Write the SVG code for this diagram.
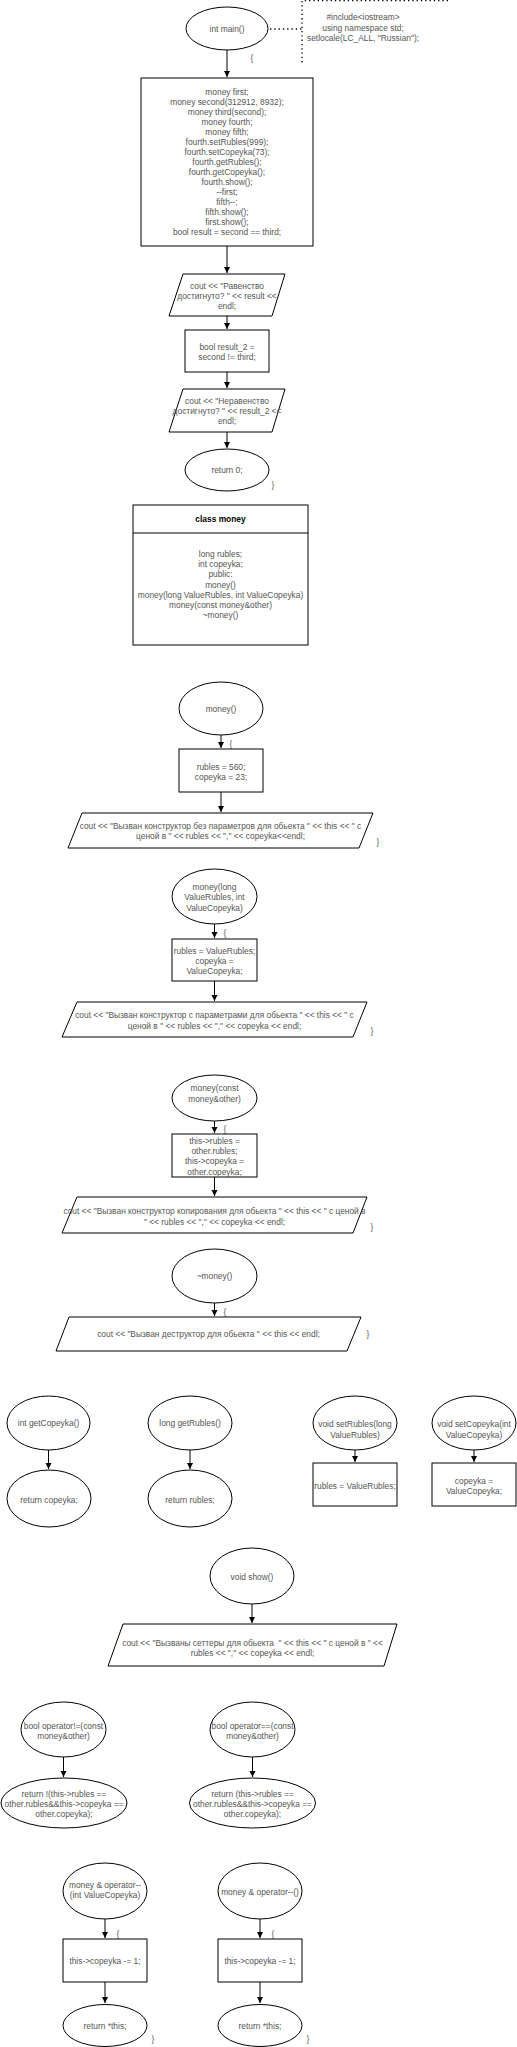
<svg xmlns="http://www.w3.org/2000/svg" width="517" height="2047" viewBox="0 0 517 2047">
<style>
text{font-family:"Liberation Sans",Arial,sans-serif;font-size:8.4px;fill:#555;text-anchor:middle}
.b{font-weight:bold;fill:#000}
.s{fill:#fff;stroke:#000;stroke-width:1}
.c{stroke:#000;stroke-width:1;fill:none}
.d{stroke:#000;stroke-width:1.3;fill:none;stroke-dasharray:1.3 3}
</style>
<defs>
<marker id="a" markerWidth="7" markerHeight="7" refX="6" refY="3.5" orient="auto" markerUnits="userSpaceOnUse">
<path d="M0,0.5 L6,3.5 L0,6.5 Z" fill="#000"/>
</marker>
</defs>
<rect width="517" height="2047" fill="#fff"/>
<g id="connectors">
<path class="c" d="M227,50 V77" marker-end="url(#a)"/>
<path class="c" d="M227,246 V273" marker-end="url(#a)"/>
<path class="c" d="M227,316 V329" marker-end="url(#a)"/>
<path class="c" d="M227,372 V388" marker-end="url(#a)"/>
<path class="c" d="M227,432 V448" marker-end="url(#a)"/>
<path class="c" d="M221,735 V748" marker-end="url(#a)"/>
<path class="c" d="M221,792 V812" marker-end="url(#a)"/>
<path class="c" d="M214.5,924 V938" marker-end="url(#a)"/>
<path class="c" d="M214.5,981 V1001" marker-end="url(#a)"/>
<path class="c" d="M214.5,1121 V1133" marker-end="url(#a)"/>
<path class="c" d="M214.5,1177 V1196" marker-end="url(#a)"/>
<path class="c" d="M214.5,1303 V1316" marker-end="url(#a)"/>
<path class="c" d="M48.5,1450 V1469" marker-end="url(#a)"/>
<path class="c" d="M190,1450 V1469" marker-end="url(#a)"/>
<path class="c" d="M355,1450 V1462" marker-end="url(#a)"/>
<path class="c" d="M474,1450 V1462" marker-end="url(#a)"/>
<path class="c" d="M252,1604 V1623" marker-end="url(#a)"/>
<path class="c" d="M63.5,1757 V1777" marker-end="url(#a)"/>
<path class="c" d="M252.5,1757 V1777" marker-end="url(#a)"/>
<path class="c" d="M105,1919 V1938" marker-end="url(#a)"/>
<path class="c" d="M105,1982 V2003" marker-end="url(#a)"/>
<path class="c" d="M260,1919 V1938" marker-end="url(#a)"/>
<path class="c" d="M260,1982 V2003" marker-end="url(#a)"/>
<path class="d" d="M270,29 H302"/>
</g>
<g id="main">
<ellipse class="s" cx="227" cy="28.5" rx="41" ry="21.5"/>
<text x="227" y="32">int main()</text>
<text x="252" y="61">{</text>
</g>
<g id="includes">
<path class="d" d="M448,0.7 H302 V63"/>
<text x="363" y="20">#include&lt;iostream&gt;</text>
<text x="363" y="31">using namespace std;</text>
<text x="363" y="41">setlocale(LC_ALL, "Russian");</text>
</g>
<g id="mainbody">
<rect class="s" x="141" y="78" width="172" height="168"/>
<text x="227" y="95">money first;</text>
<text x="227" y="105">money second(312912, 8932);</text>
<text x="227" y="115">money third(second);</text>
<text x="227" y="125">money fourth;</text>
<text x="227" y="135">money fifth;</text>
<text x="227" y="145">fourth.setRubles(999);</text>
<text x="227" y="155">fourth.setCopeyka(73);</text>
<text x="227" y="165">fourth.getRubles();</text>
<text x="227" y="175">fourth.getCopeyka();</text>
<text x="227" y="185">fourth.show();</text>
<text x="227" y="195">--first;</text>
<text x="227" y="205">fifth--;</text>
<text x="227" y="215">fifth.show();</text>
<text x="227" y="225">first.show();</text>
<text x="227" y="235">bool result = second == third;</text>
</g>
<g id="out1">
<polygon class="s" points="183,274 285,274 272,316 169,316"/>
<text x="227" y="289">cout &lt;&lt; "Равенство</text>
<text x="227" y="299">достигнуто? " &lt;&lt; result &lt;&lt;</text>
<text x="227" y="309">endl;</text>
</g>
<g id="result2">
<rect class="s" x="185" y="330" width="84" height="42"/>
<text x="227" y="350">bool result_2 =</text>
<text x="227" y="360">second != third;</text>
</g>
<g id="out2">
<polygon class="s" points="183,389 285,389 272,432 169,432"/>
<text x="227" y="404">cout &lt;&lt; "Неравенство</text>
<text x="227" y="414">достигнуто? " &lt;&lt; result_2 &lt;&lt;</text>
<text x="227" y="424">endl;</text>
</g>
<g id="ret0">
<ellipse class="s" cx="227" cy="470" rx="42" ry="21"/>
<text x="227" y="473">return 0;</text>
<text x="273" y="488">}</text>
</g>
<g id="classmoney">
<rect class="s" x="133" y="505" width="175" height="140"/>
<path class="c" d="M133,533 H308"/>
<text class="b" x="220.5" y="522">class money</text>
<text x="220.5" y="557">long rubles;</text>
<text x="220.5" y="567">int copeyka;</text>
<text x="220.5" y="577">public:</text>
<text x="220.5" y="588">money()</text>
<text x="220.5" y="598">money(long ValueRubles, int ValueCopeyka)</text>
<text x="220.5" y="608">money(const money&amp;other)</text>
<text x="220.5" y="618">~money()</text>
</g>
<g id="ctor1">
<ellipse class="s" cx="221" cy="708.5" rx="42" ry="26.5"/>
<text x="221" y="712">money()</text>
<text x="231" y="747">{</text>
<rect class="s" x="179" y="749" width="84" height="43"/>
<text x="221" y="770">rubles = 560;</text>
<text x="221" y="780">copeyka = 23;</text>
<polygon class="s" points="82,813 373,813 359,848 68,848"/>
<text x="220.5" y="829">cout &lt;&lt; "Вызван конструктор без параметров для обьекта " &lt;&lt; this &lt;&lt; " с</text>
<text x="220.5" y="839">ценой в " &lt;&lt; rubles &lt;&lt; "," &lt;&lt; copeyka&lt;&lt;endl;</text>
<text x="378" y="845">}</text>
</g>
<g id="ctor2">
<ellipse class="s" cx="214.5" cy="896.5" rx="42.5" ry="27.5"/>
<text x="214.5" y="890">money(long</text>
<text x="214.5" y="900">ValueRubles, int</text>
<text x="214.5" y="911">ValueCopeyka)</text>
<text x="225" y="936">{</text>
<rect class="s" x="172" y="939" width="85" height="42"/>
<text x="214.5" y="954">rubles = ValueRubles;</text>
<text x="214.5" y="964">copeyka =</text>
<text x="214.5" y="974">ValueCopeyka;</text>
<polygon class="s" points="77,1002 367,1002 353,1037 62,1037"/>
<text x="214.5" y="1018">cout &lt;&lt; "Вызван конструктор с параметрами для обьекта " &lt;&lt; this &lt;&lt; " с</text>
<text x="214.5" y="1029">ценой в " &lt;&lt; rubles &lt;&lt; "," &lt;&lt; copeyka &lt;&lt; endl;</text>
<text x="372" y="1034">}</text>
</g>
<g id="ctor3">
<ellipse class="s" cx="214.5" cy="1098" rx="42.5" ry="23"/>
<text x="214.5" y="1091">money(const</text>
<text x="214.5" y="1102">money&amp;other)</text>
<text x="225" y="1132">{</text>
<rect class="s" x="172" y="1134" width="85" height="43"/>
<text x="214.5" y="1144">this-&gt;rubles =</text>
<text x="214.5" y="1154">other.rubles;</text>
<text x="214.5" y="1164">this-&gt;copeyka =</text>
<text x="214.5" y="1175">other.copeyka;</text>
<polygon class="s" points="77,1197 367,1197 353,1233 62,1233"/>
<text x="214.5" y="1214">cout &lt;&lt; "Вызван конструктор копирования для обьекта " &lt;&lt; this &lt;&lt; " с ценой в</text>
<text x="214.5" y="1225">" &lt;&lt; rubles &lt;&lt; "," &lt;&lt; copeyka &lt;&lt; endl;</text>
<text x="372" y="1230">}</text>
</g>
<g id="dtor">
<ellipse class="s" cx="214.5" cy="1276" rx="42.5" ry="27"/>
<text x="214.5" y="1279">~money()</text>
<text x="225" y="1315">{</text>
<polygon class="s" points="69,1317 361,1317 347,1351 56,1351"/>
<text x="208.5" y="1337">cout &lt;&lt; "Вызван деструктор для обьекта " &lt;&lt; this &lt;&lt; endl;</text>
<text x="368" y="1337">}</text>
</g>
<g id="getCopeyka">
<ellipse class="s" cx="48.5" cy="1423" rx="41.5" ry="27"/>
<text x="48.5" y="1426">int getCopeyka()</text>
<ellipse class="s" cx="49" cy="1498.5" rx="42" ry="28.5"/>
<text x="49" y="1503">return copeyka;</text>
</g>
<g id="getRubles">
<ellipse class="s" cx="190" cy="1423" rx="42" ry="27"/>
<text x="190" y="1426">long getRubles()</text>
<ellipse class="s" cx="190" cy="1498.5" rx="42" ry="28.5"/>
<text x="190" y="1503">return rubles;</text>
</g>
<g id="setRubles">
<ellipse class="s" cx="355" cy="1423" rx="42" ry="27"/>
<text x="355" y="1427">void setRubles(long</text>
<text x="355" y="1438">ValueRubles)</text>
<rect class="s" x="313" y="1463" width="84" height="43"/>
<text x="355" y="1489">rubles = ValueRubles;</text>
</g>
<g id="setCopeyka">
<ellipse class="s" cx="474" cy="1423" rx="42" ry="27"/>
<text x="474" y="1427">void setCopeyka(int</text>
<text x="474" y="1438">ValueCopeyka)</text>
<rect class="s" x="432" y="1463" width="84" height="43"/>
<text x="474" y="1484">copeyka =</text>
<text x="474" y="1494">ValueCopeyka;</text>
</g>
<g id="show">
<ellipse class="s" cx="252" cy="1576" rx="42" ry="28"/>
<text x="252" y="1580">void show()</text>
<polygon class="s" points="123,1624 397,1624 384,1666 108,1666"/>
<text x="252.5" y="1646" xml:space="preserve">cout &lt;&lt; "Вызваны сеттеры для обьекта  " &lt;&lt; this &lt;&lt; " с ценой в " &lt;&lt;</text>
<text x="252.5" y="1656">rubles &lt;&lt; "," &lt;&lt; copeyka &lt;&lt; endl;</text>
</g>
<g id="opNe">
<ellipse class="s" cx="63.5" cy="1729.5" rx="42.5" ry="27.5"/>
<text x="63.5" y="1729">bool operator!=(const</text>
<text x="63.5" y="1739">money&amp;other)</text>
<ellipse class="s" cx="64" cy="1803" rx="63" ry="25"/>
<text x="64" y="1797">return !(this-&gt;rubles ==</text>
<text x="64" y="1807">other.rubles&amp;&amp;this-&gt;copeyka ==</text>
<text x="64" y="1817">other.copeyka);</text>
</g>
<g id="opEq">
<ellipse class="s" cx="252.5" cy="1729.5" rx="42.5" ry="27.5"/>
<text x="252.5" y="1729">bool operator==(const</text>
<text x="252.5" y="1739">money&amp;other)</text>
<ellipse class="s" cx="252.5" cy="1803" rx="63" ry="25"/>
<text x="252.5" y="1797">return (this-&gt;rubles ==</text>
<text x="252.5" y="1807">other.rubles&amp;&amp;this-&gt;copeyka ==</text>
<text x="252.5" y="1817">other.copeyka);</text>
</g>
<g id="opDecPost">
<ellipse class="s" cx="105" cy="1891" rx="42" ry="28"/>
<text x="105" y="1888">money &amp; operator--</text>
<text x="105" y="1898">(int ValueCopeyka)</text>
<text x="118" y="1937">{</text>
<rect class="s" x="63" y="1939" width="84" height="43"/>
<text x="105" y="1964">this-&gt;copeyka -= 1;</text>
<ellipse class="s" cx="105" cy="2025.5" rx="42" ry="21"/>
<text x="105" y="2029">return *this;</text>
<text x="153" y="2042">}</text>
</g>
<g id="opDecPre">
<ellipse class="s" cx="260" cy="1891" rx="42" ry="28"/>
<text x="260" y="1895">money &amp; operator--()</text>
<text x="273" y="1937">{</text>
<rect class="s" x="218" y="1939" width="84" height="43"/>
<text x="260" y="1964">this-&gt;copeyka -= 1;</text>
<ellipse class="s" cx="260" cy="2025.5" rx="42" ry="21"/>
<text x="260" y="2029">return *this;</text>
<text x="308" y="2042">}</text>
</g>
</svg>
